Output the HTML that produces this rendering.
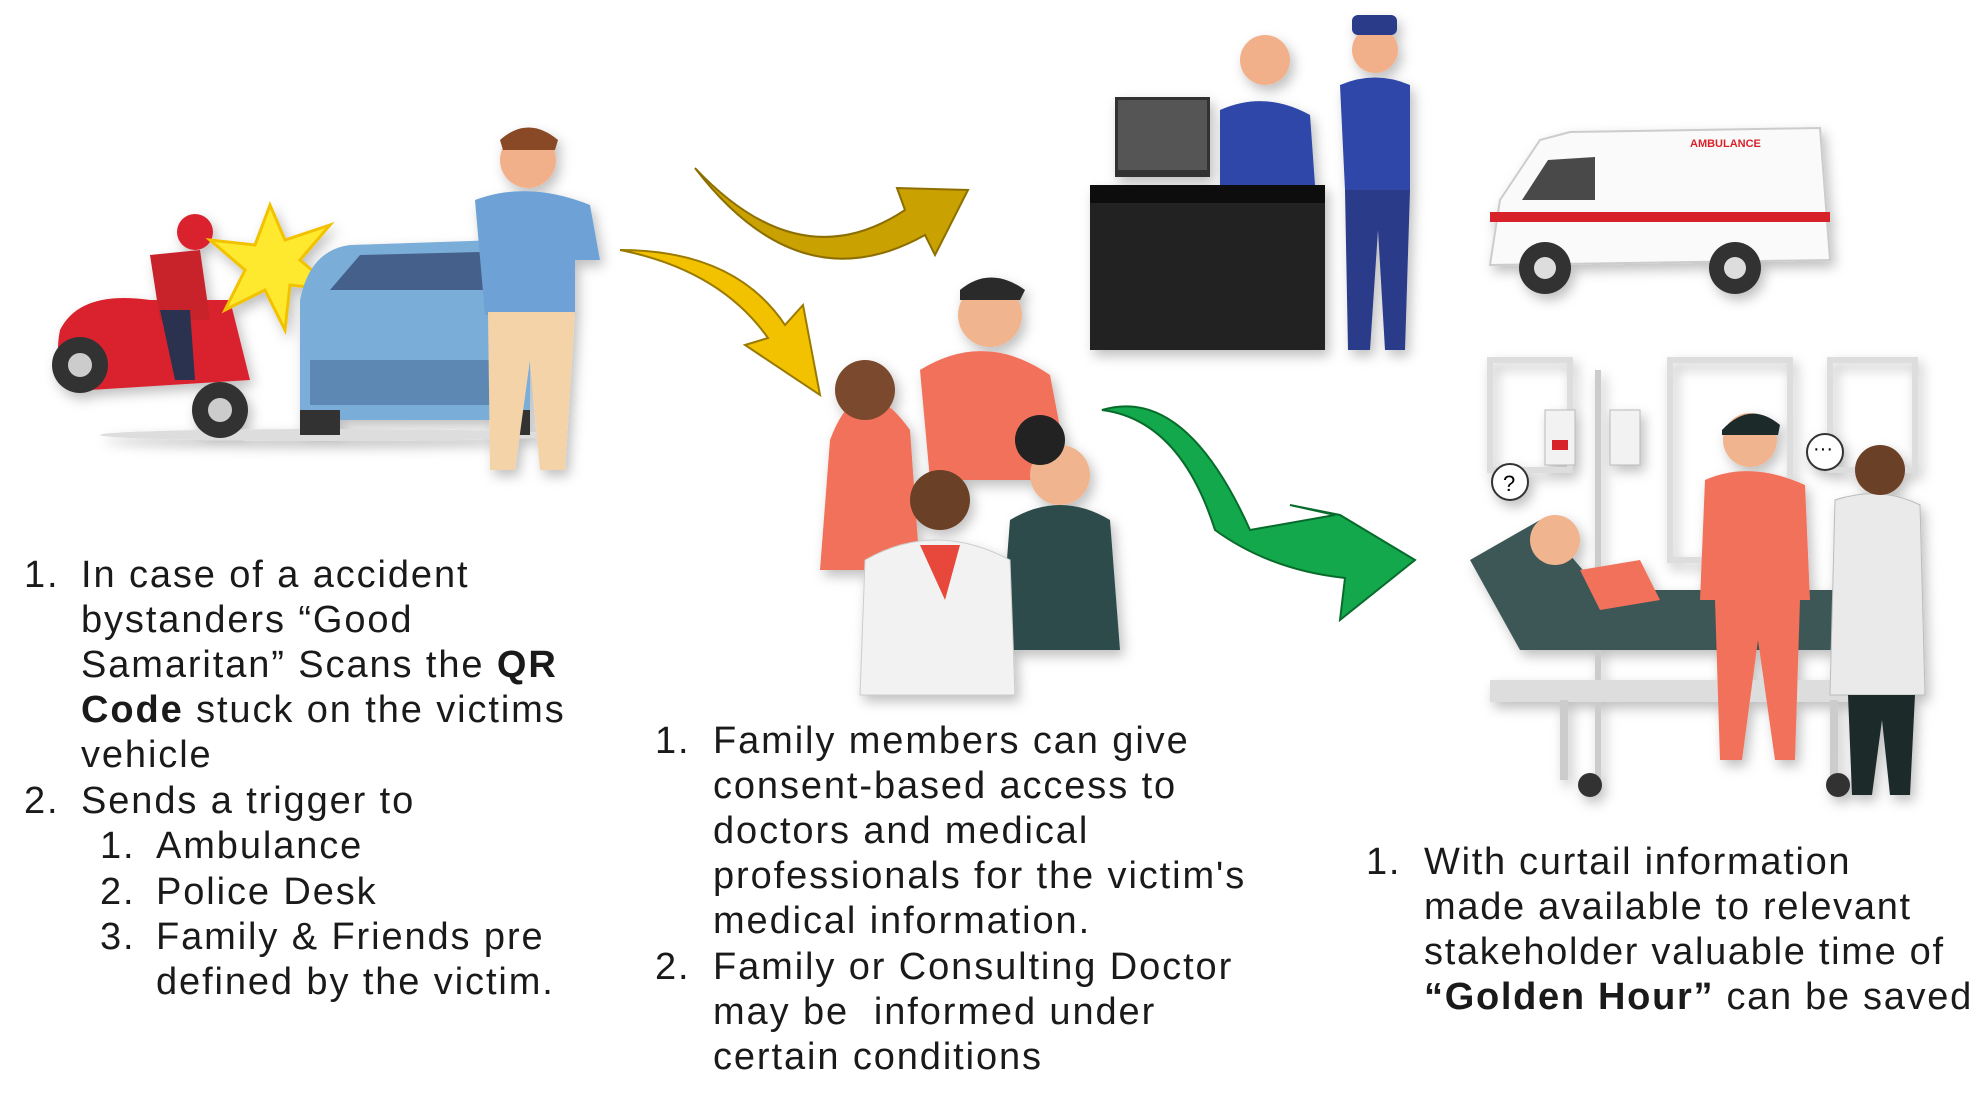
<!DOCTYPE html>
<html><head><meta charset="utf-8"><style>
html,body{margin:0;padding:0;background:#fff;}
body{width:1983px;height:1103px;position:relative;overflow:hidden;font-family:"Liberation Sans",sans-serif;color:#1a1a1a;}
.t{position:absolute;font-size:38px;line-height:45px;white-space:nowrap;}
.L{letter-spacing:1.9px;}
.M{letter-spacing:1.9px;}
.R{letter-spacing:1.7px;}
b{font-weight:bold;}
svg{position:absolute;left:0;top:0;}
</style></head><body>
<svg width="1983" height="1103" viewBox="0 0 1983 1103">
<defs><filter id="sh"><feDropShadow dx="4" dy="6" stdDeviation="6" flood-color="#000" flood-opacity="0.25"/></filter></defs>
<g filter="url(#sh)">
<ellipse cx="330" cy="435" rx="230" ry="6" fill="#ddd"/>
<path d="M60 330 Q80 290 150 300 L230 300 L250 380 L90 390 Q50 380 60 330Z" fill="#d9232d"/>
<circle cx="80" cy="365" r="28" fill="#333"/><circle cx="80" cy="365" r="12" fill="#ccc"/>
<circle cx="220" cy="410" r="28" fill="#333"/><circle cx="220" cy="410" r="12" fill="#ccc"/>
<circle cx="195" cy="232" r="18" fill="#d9232d"/>
<path d="M150 255 L200 250 L210 320 L160 320Z" fill="#c8202a"/>
<path d="M160 310 L175 380 L195 380 L190 310Z" fill="#2a3350"/>
<polygon points="270,205 285,240 330,225 300,260 335,290 290,285 285,330 265,290 225,310 245,270 210,240 255,245" fill="#ffe92e" stroke="#f2c200" stroke-width="3"/>
<path d="M300 300 Q310 250 350 245 L500 240 L530 300 L530 420 L300 420Z" fill="#7aaed8"/>
<path d="M330 290 L360 255 L480 252 L500 290Z" fill="#44608a"/>
<rect x="310" y="360" width="210" height="45" fill="#5d88b3"/>
<rect x="300" y="410" width="40" height="25" fill="#333"/><rect x="490" y="410" width="40" height="25" fill="#333"/>
<circle cx="528" cy="160" r="28" fill="#f2b08a"/>
<path d="M500 140 Q528 115 558 140 L555 150 L503 150Z" fill="#8a4a25"/>
<path d="M475 200 Q528 180 590 205 L600 260 L575 260 L575 315 L485 315 Z" fill="#6ea2d6"/>
<path d="M488 312 L575 312 L565 470 L540 470 L530 360 L515 470 L490 470Z" fill="#f4d3a8"/>
</g>
<path d="M695 168 Q800 280 905 210 L897 188 L968 190 L935 255 L925 235 Q800 305 695 168Z" fill="#c9a100" stroke="#8c6f00" stroke-width="2"/>
<path d="M620 250 Q735 250 785 325 L803 305 L820 395 L745 345 L768 338 Q720 270 620 250Z" fill="#f2c200" stroke="#9a7a00" stroke-width="2"/>
<path d="M1102 410 Q1185 385 1250 530 L1335 515 L1290 505 L1340 515 L1415 560 L1340 620 L1345 578 Q1270 570 1215 530 Q1180 420 1102 410Z" fill="#12a84b" stroke="#086b2c" stroke-width="2"/>
<g filter="url(#sh)">
<path d="M830 440 Q860 360 910 430 L920 570 L820 570Z" fill="#f2715a"/>
<circle cx="865" cy="390" r="30" fill="#7a4a2e"/>
<path d="M920 370 Q985 330 1050 375 L1070 480 L930 480Z" fill="#f2715a"/>
<circle cx="990" cy="315" r="32" fill="#f0b48e"/>
<path d="M960 290 Q990 265 1025 290 L1020 300 L960 300Z" fill="#2b2b2b"/>
<path d="M1010 520 Q1060 490 1110 520 L1120 650 L1000 650Z" fill="#2f4b4b"/>
<circle cx="1060" cy="475" r="30" fill="#f0b48e"/>
<circle cx="1040" cy="440" r="25" fill="#222"/>
<path d="M865 560 Q935 520 1010 560 L1015 695 L860 695Z" fill="#f2f2f2" stroke="#ccc"/>
<circle cx="940" cy="500" r="30" fill="#6a3f27"/>
<path d="M920 545 L960 545 L945 600Z" fill="#e8463a"/>
</g>
<g filter="url(#sh)">
<rect x="1115" y="97" width="95" height="80" fill="#333"/>
<rect x="1118" y="100" width="89" height="70" fill="#555"/>
<circle cx="1265" cy="60" r="25" fill="#f2b08a"/>
<path d="M1220 110 Q1265 90 1310 115 L1315 185 L1220 185Z" fill="#2f46a8"/>
<rect x="1090" y="185" width="235" height="165" fill="#222"/>
<rect x="1090" y="185" width="235" height="18" fill="#111"/>
<circle cx="1375" cy="50" r="23" fill="#f2b08a"/>
<rect x="1352" y="15" width="45" height="20" rx="6" fill="#2a3a8a"/>
<path d="M1340 85 Q1375 70 1410 85 L1410 190 L1345 190Z" fill="#2f46a8"/>
<path d="M1345 190 L1410 190 L1405 350 L1385 350 L1378 230 L1370 350 L1348 350Z" fill="#2a3a8a"/>
</g>
<g filter="url(#sh)">
<path d="M1500 200 L1540 140 L1570 132 L1820 128 L1830 260 L1490 265 Z" fill="#fafafa" stroke="#ccc" stroke-width="2"/>
<path d="M1522 200 L1548 160 L1595 157 L1595 200Z" fill="#4a4a4a"/>
<rect x="1490" y="212" width="340" height="10" fill="#d8242c"/>
<text x="1690" y="147" font-size="11" font-weight="bold" fill="#d8242c" font-family="Liberation Sans">AMBULANCE</text>
<circle cx="1545" cy="268" r="26" fill="#333"/><circle cx="1545" cy="268" r="11" fill="#ddd"/>
<circle cx="1735" cy="268" r="26" fill="#333"/><circle cx="1735" cy="268" r="11" fill="#ddd"/>
</g>
<g filter="url(#sh)">
<rect x="1490" y="360" width="80" height="110" fill="none" stroke="#ddd" stroke-width="6"/>
<rect x="1670" y="360" width="120" height="200" fill="none" stroke="#ddd" stroke-width="6"/>
<rect x="1830" y="360" width="85" height="110" fill="none" stroke="#ddd" stroke-width="6"/>
<rect x="1545" y="410" width="30" height="55" fill="#f2f2f2" stroke="#bbb"/>
<rect x="1552" y="440" width="16" height="10" fill="#d8242c"/>
<rect x="1610" y="410" width="30" height="55" fill="#f2f2f2" stroke="#bbb"/>
<rect x="1595" y="370" width="6" height="410" fill="#ccc"/>
<circle cx="1510" cy="482" r="18" fill="#fff" stroke="#333" stroke-width="2"/><text x="1503" y="491" font-size="22" font-family="Liberation Sans">?</text>
<circle cx="1825" cy="452" r="18" fill="#fff" stroke="#333" stroke-width="2"/><text x="1813" y="455" font-size="20" font-family="Liberation Sans">···</text>
<path d="M1470 560 L1540 520 L1600 590 L1860 590 L1860 650 L1520 650Z" fill="#3d5656"/>
<circle cx="1555" cy="540" r="25" fill="#f0b48e"/>
<path d="M1580 570 L1640 560 L1660 600 L1600 610Z" fill="#f2715a"/>
<rect x="1490" y="680" width="370" height="22" fill="#ddd"/>
<rect x="1560" y="700" width="8" height="80" fill="#ccc"/><rect x="1830" y="700" width="8" height="80" fill="#ccc"/>
<circle cx="1590" cy="785" r="12" fill="#333"/><circle cx="1838" cy="785" r="12" fill="#333"/>
<path d="M1705 480 Q1750 460 1805 485 L1810 600 L1700 600Z" fill="#f2715a"/>
<path d="M1715 600 L1800 600 L1795 760 L1775 760 L1758 640 L1742 760 L1720 760Z" fill="#f2715a"/>
<circle cx="1750" cy="440" r="27" fill="#f0b48e"/>
<path d="M1722 430 Q1750 400 1780 425 L1778 435 L1722 435Z" fill="#1f2b2b"/>
<path d="M1835 500 Q1880 485 1920 505 L1925 695 L1830 695Z" fill="#eaeaea" stroke="#bbb"/>
<path d="M1848 695 L1915 695 L1910 795 L1890 795 L1882 720 L1872 795 L1852 795Z" fill="#1f2b2b"/>
<circle cx="1880" cy="470" r="25" fill="#6a3f27"/>
</g>
</svg>

<div class="t L" style="left:24px;top:553px;">1.</div>
<div class="t L" style="left:81px;top:553px;">In case of a accident<br>bystanders “Good<br>Samaritan” Scans the <b>QR</b><br><b>Code</b> stuck on the victims<br>vehicle</div>
<div class="t L" style="left:24px;top:779px;">2.</div>
<div class="t L" style="left:81px;top:779px;">Sends a trigger to</div>
<div class="t L" style="left:100px;top:824px;">1.</div><div class="t L" style="left:156px;top:824px;">Ambulance</div>
<div class="t L" style="left:100px;top:870px;">2.</div><div class="t L" style="left:156px;top:870px;">Police Desk</div>
<div class="t L" style="left:100px;top:915px;">3.</div><div class="t L" style="left:156px;top:915px;">Family &amp; Friends pre<br>defined by the victim.</div>

<div class="t M" style="left:655px;top:719px;">1.</div>
<div class="t M" style="left:713px;top:719px;">Family members can give<br>consent-based access to<br>doctors and medical<br>professionals for the victim's<br>medical information.</div>
<div class="t M" style="left:655px;top:945px;">2.</div>
<div class="t M" style="left:713px;top:945px;">Family or Consulting Doctor<br>may be &nbsp;informed under<br>certain conditions</div>

<div class="t R" style="left:1366px;top:840px;">1.</div>
<div class="t R" style="left:1424px;top:840px;">With curtail information<br>made available to relevant<br>stakeholder valuable time of<br><b>“Golden Hour”</b> can be saved</div>
</body></html>
